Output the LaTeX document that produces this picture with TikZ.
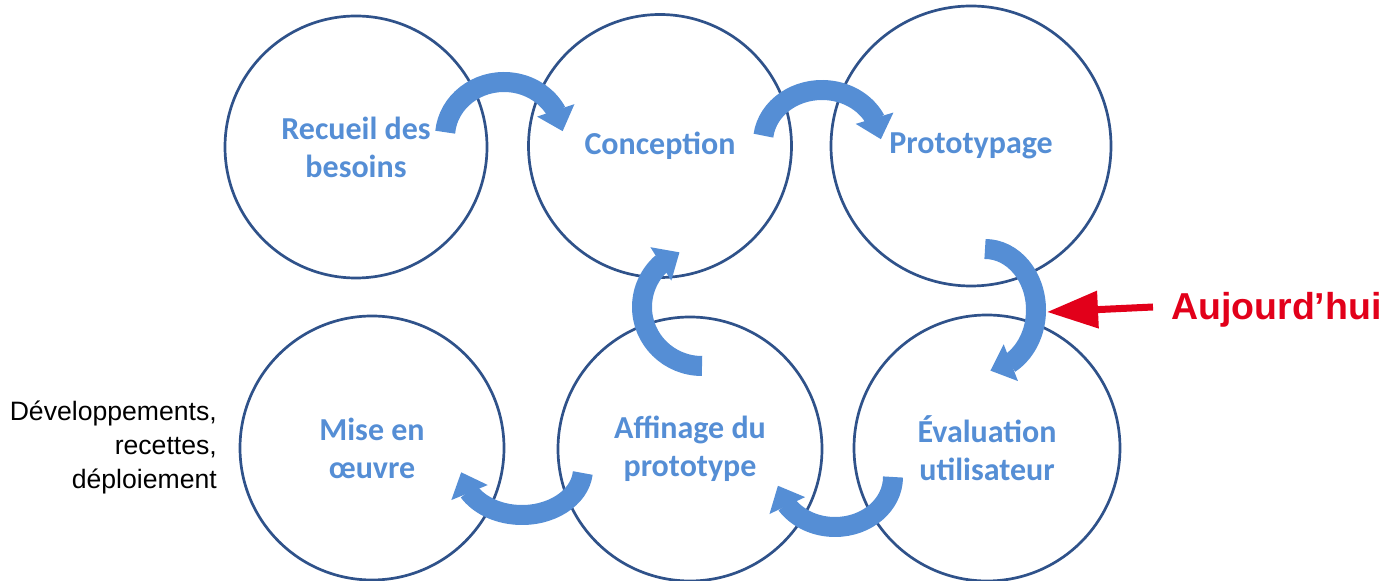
\documentclass[tikz,border=0pt]{standalone}
\usepackage{fontspec}
\setmainfont{Liberation Sans}
\newfontfamily\stagefont{Carlito}
\usetikzlibrary{arrows.meta,bending}
\definecolor{ringblue}{RGB}{47,82,138}
\definecolor{flowblue}{RGB}{85,142,213}
\definecolor{nowred}{RGB}{226,0,26}
\begin{document}
\begin{tikzpicture}[x=1pt, y=1pt, line join=round,
		stage/.style={circle, draw=ringblue, line width=2.7pt, text=flowblue, align=center, inner sep=0pt,
			font=\stagefont\bfseries\fontsize{32}{38}\selectfont},
		flow/.style={draw=flowblue, line width=20pt, line cap=butt, -{Triangle[length=22pt,width=38pt,flex]}},
		pointer/.style={draw=nowred, line width=7pt, line cap=butt, -{Triangle[length=51pt,width=36pt]}}]
			\useasboundingbox (0,0) rectangle (1385,581);
			% les six etapes
			\node [stage, minimum size=262pt] (recueil) at (356,434) {Recueil des\\besoins};
			\node [stage, minimum size=263pt] (conception) at (660,435) {Conception};
			\node [stage, minimum size=280pt] (prototypage) at (971,435) {Prototypage};
			\node [stage, minimum size=264pt] (mise) at (372,133) {Mise en\\œuvre};
			\node [stage, minimum size=264pt] (affinage) at (690,132) {Affinage du\\prototype};
			\node [stage, minimum size=266pt] (evaluation) at (987,133) {Évaluation\\utilisateur};
			% les fleches courbes
			\draw [flow] (504,444) ++(175:59 and 55) arc[start angle=175, end angle=6, x radius=59, y radius=55];
			\draw [flow] (822,439) ++(173:59 and 52) arc[start angle=173, end angle=3, x radius=59, y radius=52];
			\draw [flow] (985,271) ++(90:51 and 61) arc[start angle=90, end angle=-84, x radius=51, y radius=61];
			\draw [flow] (835,104) ++(0:58 and 50) arc[start angle=0, end angle=-170, x radius=58, y radius=50];
			\draw [flow] (522,112) ++(-5:61 and 46) arc[start angle=-5, end angle=-176, x radius=61, y radius=46];
			\draw [flow] (702,274) ++(270:60 and 59) arc[start angle=270, end angle=112, x radius=60, y radius=59];
			% textes hors cercles
			\node [anchor=east, align=right, inner sep=0pt, font=\fontsize{26.6}{34}\selectfont] (travaux) at (217,134) {Développements,\\recettes,\\déploiement};
			\node [anchor=west, inner sep=0pt, text=nowred, font=\bfseries\fontsize{37.5}{40}\selectfont] (today) at (1171,271) {Aujourd’hui};
			\coordinate (now) at (1047,269);
			\draw [pointer] ([xshift=-18pt,yshift=3pt]today.west) -- (now);
			%\node at (692,-20) {Cycle};
		\end{tikzpicture}
\end{document}
